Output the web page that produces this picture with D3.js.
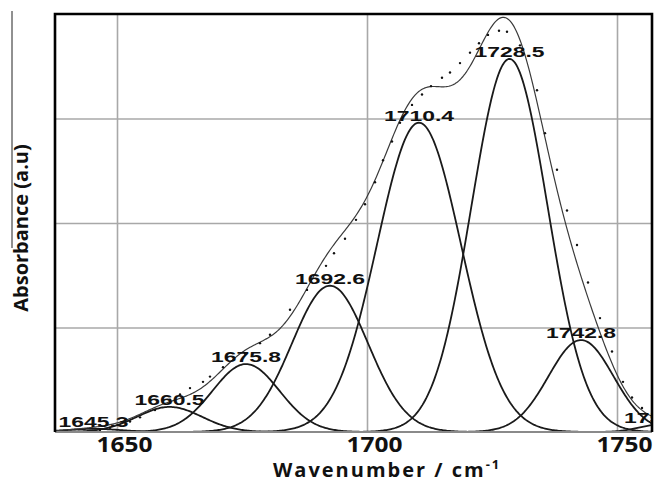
<!DOCTYPE html>
<html>
<head>
<meta charset="utf-8">
<script src="https://cdn.jsdelivr.net/npm/d3@7/dist/d3.min.js"></script>
<style>
    body { margin: 0; background: #fff; }
    #chart { width: 656px; height: 484px; }
</style>
</head>
<body>
<div id="chart"></div>
<script>
// fitted bands: centre (cm-1), height (a.u), sigma (cm-1)
const peakLabels  = ["1645.3", "1660.5", "1675.8", "1692.6", "1710.4", "1728.5", "1742.8", "1758.4"];
const peakCenters = [1645.3, 1660.5, 1675.8, 1692.6, 1710.4, 1728.5, 1742.8, 1758.4];
const peakHeights = [0.03, 0.24, 0.65, 1.40, 2.96, 3.57, 0.88, 0.07];
const peakSigmas  = [5.5, 6.5, 6.7, 7.6, 8.4, 7.6, 6.5, 4.0];

// measured spectrum (dots)
const measuredX = [1646.6, 1648.6, 1652.6, 1654.6, 1657.6, 1660.6, 1662.6, 1664.6, 1667.2, 1668.6,
    1671.2, 1675.6, 1678.6, 1680.6, 1684.6, 1688.0, 1691.8, 1693.4, 1695.6, 1697.8, 1699.6, 1701.6,
    1703.2, 1705.0, 1706.6, 1709.0, 1711.0, 1712.8, 1715.0, 1716.6, 1718.6, 1720.6, 1722.4, 1724.2,
    1726.4, 1728.0, 1730.6, 1734.0, 1735.6, 1738.0, 1740.0, 1742.0, 1744.2, 1746.6, 1749.0, 1751.2,
    1753.0, 1755.0];
const measuredY = [0.02, 0.04, 0.10, 0.14, 0.21, 0.31, 0.36, 0.42, 0.48, 0.53,
    0.62, 0.75, 0.85, 0.93, 1.17, 1.36, 1.59, 1.71, 1.85, 2.03, 2.18, 2.39,
    2.60, 2.78, 2.96, 3.13, 3.23, 3.31, 3.39, 3.44, 3.53, 3.63, 3.72, 3.80,
    3.84, 3.83, 3.70, 3.27, 2.86, 2.51, 2.12, 1.79, 1.43, 1.09, 0.77, 0.48,
    0.33, 0.23];

const xTicks = [1650, 1700, 1750];
const yGrid = [1, 2, 3];

class BandFitChart {
    constructor(parentElement) {
        this.parentElement = parentElement;
        this.initVis();
    }

    initVis() {
        let vis = this;

        vis.margin = {top: 14, right: 4, bottom: 52, left: 55};
        vis.totalWidth = 656;
        vis.totalHeight = 484;
        vis.width = vis.totalWidth - vis.margin.left - vis.margin.right;
        vis.height = vis.totalHeight - vis.margin.top - vis.margin.bottom;

        vis.svg = d3.select("#" + vis.parentElement).append("svg")
            .attr("width", vis.totalWidth)
            .attr("height", vis.totalHeight);

        vis.g = vis.svg.append("g")
            .attr("transform", `translate(${vis.margin.left}, ${vis.margin.top})`);

        vis.g.append("clipPath")
            .attr("id", "plotClip")
            .append("rect")
            .attr("width", vis.width)
            .attr("height", vis.height);

        vis.x = d3.scaleLinear()
            .domain([1637.6, 1757])
            .range([0, vis.width]);

        vis.y = d3.scaleLinear()
            .domain([0, 4])
            .range([vis.height, 0]);

        vis.wrangleData();
    }

    wrangleData() {
        let vis = this;

        vis.bands = peakCenters.map((c, i) => ({
            label: peakLabels[i], center: c, height: peakHeights[i], sigma: peakSigmas[i]
        }));

        vis.xs = d3.range(vis.x.domain()[0], vis.x.domain()[1] + 0.25, 0.25);
        let gauss = (b, x) => b.height * Math.exp(-((x - b.center) ** 2) / (2 * b.sigma * b.sigma));

        vis.bandLines = vis.bands.map(b => vis.xs.map(x => [x, gauss(b, x)]));
        vis.envelope = vis.xs.map(x => [x, d3.sum(vis.bands, b => gauss(b, x))]);
        vis.points = measuredX.map((x, i) => ({x: x, y: measuredY[i]}));

        vis.updateVis();
    }

    updateVis() {
        let vis = this;

        // grid
        vis.g.append("g")
            .attr("class", "grid")
            .attr("transform", `translate(0, ${vis.height})`)
            .call(d3.axisBottom(vis.x).tickValues(xTicks).tickSize(-vis.height).tickFormat(""))
            .call(g => g.select(".domain").remove());
        vis.g.append("g")
            .attr("class", "grid")
            .call(d3.axisLeft(vis.y).tickValues(yGrid).tickSize(-vis.width).tickFormat(""))
            .call(g => g.select(".domain").remove());
        vis.g.selectAll(".grid line")
            .attr("stroke", "#a8a8a8")
            .attr("stroke-width", 1.6);

        let plot = vis.g.append("g").attr("clip-path", "url(#plotClip)");

        let line = d3.line()
            .x(d => vis.x(d[0]))
            .y(d => vis.y(d[1]));

        // individual bands
        plot.selectAll(".band")
            .data(vis.bandLines)
            .enter()
            .append("path")
            .attr("class", "band")
            .attr("d", line)
            .attr("fill", "none")
            .attr("stroke", "#1a1a1a")
            .attr("stroke-width", 1.8);

        // envelope
        plot.append("path")
            .datum(vis.envelope)
            .attr("d", line)
            .attr("fill", "none")
            .attr("stroke", "#3a3a3a")
            .attr("stroke-width", 1.2);

        // measured points
        plot.selectAll(".pt")
            .data(vis.points)
            .enter()
            .append("circle")
            .attr("class", "pt")
            .attr("cx", d => vis.x(d.x))
            .attr("cy", d => vis.y(d.y))
            .attr("r", 1.2)
            .attr("fill", "#111");

        // band labels (last one runs off the right edge, as in the source)
        plot.selectAll(".bandLabel")
            .data(vis.bands)
            .enter()
            .append("text")
            .attr("class", "bandLabel")
            .attr("x", d => vis.x(d.center))
            .attr("y", d => vis.y(d.height) - 2)
            .attr("text-anchor", "middle")
            .attr("textLength", 70)
            .attr("lengthAdjust", "spacingAndGlyphs")
            .style("font-family", "'Liberation Sans', Arial, sans-serif")
            .style("font-size", "14px")
            .style("font-weight", "bold")
            .attr("fill", "#111")
            .text(d => d.label);

        // frame
        vis.g.append("line")
            .attr("x1", 0).attr("x2", vis.width)
            .attr("y1", vis.height).attr("y2", vis.height)
            .attr("stroke", "#8a8a8a").attr("stroke-width", 2);
        vis.g.append("path")
            .attr("d", `M0,${vis.height}V0H${vis.width}V${vis.height}`)
            .attr("fill", "none")
            .attr("stroke", "#000")
            .attr("stroke-width", 2.6);

        // x tick labels
        let xAxis = vis.g.append("g")
            .attr("class", "x_axis")
            .attr("transform", `translate(0, ${vis.height})`)
            .call(d3.axisBottom(vis.x).tickValues(xTicks).tickSize(0).tickFormat(d3.format("d")));
        xAxis.select(".domain").remove();
        xAxis.selectAll("text")
            .attr("y", 20)
            .attr("dx", 7)
            .attr("dy", 0)
            .attr("textLength", 56)
            .attr("lengthAdjust", "spacingAndGlyphs")
            .attr("fill", "#111")
            .style("font-family", "'Open Sans', sans-serif")
            .style("font-size", "21px")
            .style("font-weight", "bold");

        // axis titles
        let xt = vis.svg.append("text")
            .attr("x", 273)
            .attr("y", 477)
            .attr("fill", "#111")
            .style("font-family", "'Open Sans', sans-serif")
            .style("font-size", "20px")
            .style("font-weight", "bold")
            .style("letter-spacing", "2px");
        xt.append("tspan").text("Wavenumber / cm");
        xt.append("tspan").attr("dy", -8).style("font-size", "13px").text("-1");

        vis.svg.append("text")
            .attr("transform", "rotate(-90)")
            .attr("x", -228)
            .attr("y", 28)
            .attr("text-anchor", "middle")
            .attr("fill", "#111")
            .style("font-family", "'Open Sans', sans-serif")
            .style("font-size", "20px")
            .style("font-weight", "bold")
            .text("Absorbance (a.u)");

        // stray vertical rule left of the y title
        vis.svg.append("line")
            .attr("x1", 12).attr("x2", 12)
            .attr("y1", 11).attr("y2", 248)
            .attr("stroke", "#222")
            .attr("stroke-width", 1);
    }
}

new BandFitChart("chart");
</script>
</body>
</html>
